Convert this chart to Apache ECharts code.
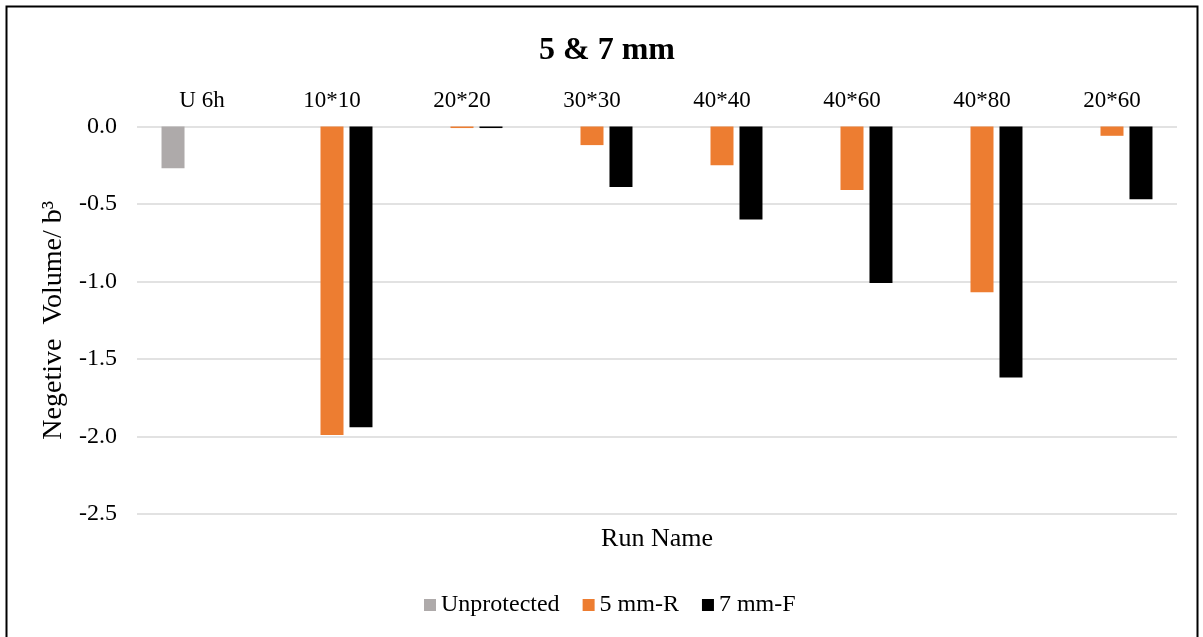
<!DOCTYPE html>
<html>
<head>
<meta charset="utf-8">
<title>5 &amp; 7 mm</title>
<script src="https://cdn.jsdelivr.net/npm/echarts@6/dist/echarts.min.js"></script>
<style>
  html, body { margin: 0; padding: 0; background: #ffffff; }
  #chart { width: 1203px; height: 637px; }
</style>
</head>
<body>
<div id="chart"></div>
<script>
// Run names along the category axis
const categories = ['U 6h', '10*10', '20*20', '30*30', '40*40', '40*60', '40*80', '20*60'];

// Negative volume per run (b^3)
const unprotected = [-0.27, null, null, null, null, null, null, null];
const mm5R = [null, -1.99, -0.01, -0.12, -0.25, -0.41, -1.07, -0.06];
const mm7F = [null, -1.94, -0.01, -0.39, -0.60, -1.01, -1.62, -0.47];

// Value-axis ticks
const yMin = -2.5;
const yMax = 0;
const yStep = 0.5;

const FONT = '"Liberation Serif", "Times New Roman", serif';

const chart = echarts.init(document.getElementById('chart'), null, { renderer: 'canvas' });

chart.setOption({
  backgroundColor: '#ffffff',
  animation: false,
  title: [{
    text: '5 & 7 mm',
    left: 602,
    textAlign: 'center',
    top: 30,
    textStyle: { fontFamily: FONT, fontSize: 32, fontWeight: 'bold', color: '#000000' }
  }, {
    text: 'Run Name',
    left: 652,
    textAlign: 'center',
    top: 521,
    textStyle: { fontFamily: FONT, fontSize: 26, fontWeight: 'normal', color: '#000000' }
  }],
  graphic: [{
    type: 'rect',
    shape: { x: 6.5, y: 6.5, width: 1191, height: 640 },
    style: { fill: 'none', stroke: '#000000', lineWidth: 2 },
    silent: true
  }],
  legend: {
    bottom: 15,
    left: 419,
    icon: 'rect',
    itemWidth: 12,
    itemHeight: 12,
    itemGap: 23,
    textStyle: { fontFamily: FONT, fontSize: 24, color: '#000000' },
    data: ['Unprotected', '5 mm-R', '7 mm-F']
  },
  grid: { left: 137, right: 26, top: 126.5, bottom: 123, containLabel: false },
  xAxis: {
    type: 'category',
    position: 'top',
    data: categories,
    axisLine: { show: false },
    axisTick: { show: false },
    axisLabel: { fontFamily: FONT, fontSize: 23, color: '#000000', margin: 14 }
  },
  yAxis: {
    type: 'value',
    min: yMin,
    max: yMax,
    interval: yStep,
    name: 'Negetive  Volume/ b\u00B3',
    nameLocation: 'middle',
    nameRotate: 90,
    nameGap: 67,
    nameTextStyle: { fontFamily: FONT, fontSize: 28, color: '#000000' },
    axisLine: { show: false },
    axisTick: { show: false },
    axisLabel: {
      fontFamily: FONT, fontSize: 24, color: '#000000', margin: 20,
      formatter: v => v.toFixed(1)
    },
    splitLine: { lineStyle: { color: '#d9d9d9', width: 1.5 } }
  },
  series: [{
    name: 'Unprotected',
    type: 'bar',
    data: unprotected,
    barWidth: 23,
    barGap: '26%',
    itemStyle: { color: '#aeaaaa' }
  }, {
    name: '5 mm-R',
    type: 'bar',
    data: mm5R,
    barWidth: 23,
    barGap: '26%',
    itemStyle: { color: '#ed7d31' }
  }, {
    name: '7 mm-F',
    type: 'bar',
    data: mm7F,
    barWidth: 23,
    barGap: '26%',
    itemStyle: { color: '#000000' }
  }]
});
</script>
</body>
</html>
